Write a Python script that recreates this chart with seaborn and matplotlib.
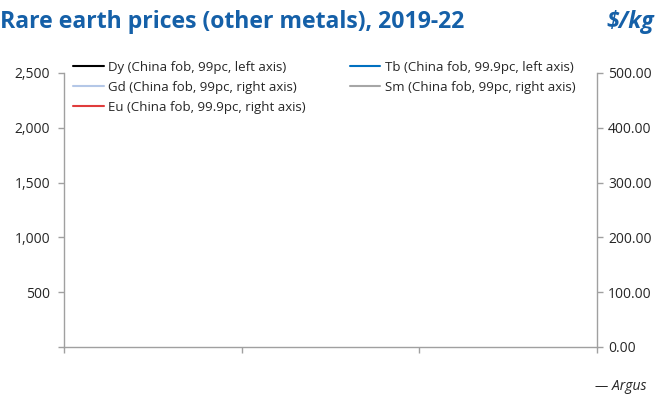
import matplotlib
matplotlib.use("Agg")
import matplotlib.pyplot as plt
import seaborn as sns
import numpy as np
import pandas as pd
from matplotlib.lines import Line2D
from matplotlib.ticker import FuncFormatter, FixedLocator

sns.set_theme(style="white")
plt.rcParams['font.family'] = ['Open Sans', 'DejaVu Sans']

# Data (the reference chart shows no plotted values)
x_ticks = [0, 1, 2, 3]            # 2019 .. 2022, unlabeled
dy_vals = []   # Dy (China fob, 99pc, left axis)
tb_vals = []   # Tb (China fob, 99.9pc, left axis)
gd_vals = []   # Gd (China fob, 99pc, right axis)
sm_vals = []   # Sm (China fob, 99pc, right axis)
eu_vals = []   # Eu (China fob, 99.9pc, right axis)
dates = []

series_labels = ["Dy (China fob, 99pc, left axis)",
                 "Tb (China fob, 99.9pc, left axis)",
                 "Gd (China fob, 99pc, right axis)",
                 "Sm (China fob, 99pc, right axis)",
                 "Eu (China fob, 99.9pc, right axis)"]
series_colors = ["#000000", "#0070c0", "#b4c7e7", "#a6a6a6", "#e03c3c"]
left_ticks = [0, 500, 1000, 1500, 2000, 2500]
right_ticks = [0, 100, 200, 300, 400, 500]

fig = plt.figure(figsize=(6.72, 3.94), dpi=100)
ax = fig.add_axes([64/672, 1-347/394, (597-64)/672, (347-73)/394])
ax2 = ax.twinx()

sns.lineplot(x=dates, y=dy_vals, ax=ax, color=series_colors[0])
sns.lineplot(x=dates, y=tb_vals, ax=ax, color=series_colors[1])
sns.lineplot(x=dates, y=gd_vals, ax=ax2, color=series_colors[2])
sns.lineplot(x=dates, y=sm_vals, ax=ax2, color=series_colors[3])
sns.lineplot(x=dates, y=eu_vals, ax=ax2, color=series_colors[4])

grey = "#a0a0a0"
txt = "#262626"
ax.set_xlim(x_ticks[0], x_ticks[-1])
ax.set_ylim(left_ticks[0], left_ticks[-1])
ax2.set_ylim(right_ticks[0], right_ticks[-1])
ax.xaxis.set_major_locator(FixedLocator(x_ticks))
ax.set_xticklabels([])
ax.yaxis.set_major_locator(FixedLocator(left_ticks))
ax.yaxis.set_major_formatter(FuncFormatter(lambda v, p: "" if v == 0 else f"{v:,.0f}"))
ax2.yaxis.set_major_locator(FixedLocator(right_ticks))
ax2.yaxis.set_major_formatter(FuncFormatter(lambda v, p: f"{v:.2f}"))
ax.set_xlabel(""); ax.set_ylabel(""); ax2.set_ylabel("")

for a in (ax, ax2):
    for s in a.spines.values():
        s.set_color(grey)
        s.set_linewidth(1.0)
    a.spines['top'].set_visible(False)
ax.spines['right'].set_visible(False)
ax2.spines['left'].set_visible(False)
ax2.spines['bottom'].set_visible(False)

ax.tick_params(axis='y', which='both', left=True, length=4, width=1, color=grey,
               labelsize=10, labelcolor=txt, pad=6)
ax.tick_params(axis='x', which='both', bottom=True, length=4, width=1, color=grey, direction='out')
ax2.tick_params(axis='y', which='both', right=True, length=4, width=1, color=grey,
                labelsize=10, labelcolor=txt, pad=4)
ax.grid(False); ax2.grid(False)

order = [0, 2, 4, 1, 3]
handles = [Line2D([0], [0], color=series_colors[i], lw=1.5) for i in order]
labels = [series_labels[i] for i in order]
leg = ax.legend(handles, labels, ncol=2, loc='upper left', bbox_to_anchor=(0.0, 1.078),
                frameon=False, fontsize=9.5, handlelength=2.3, handletextpad=0.35,
                columnspacing=3.35, labelspacing=0.52, borderaxespad=0.3)
for t in leg.get_texts():
    t.set_color(txt)

title_color = "#1560a8"
fig.text(0.0, 1-22/394, "Rare earth prices (other metals), 2019-22", fontsize=16.6,
         fontweight='bold', color=title_color, va='center', ha='left')
fig.text(0.974, 1-22/394, "\\$/kg", fontsize=16.5, fontweight='bold', style='italic',
         color=title_color, va='center', ha='right')
fig.text(0.962, 1-386/394, "— Argus", fontsize=10, style='italic', color=txt,
         va='center', ha='right')

fig.savefig("out.png", dpi=100)
